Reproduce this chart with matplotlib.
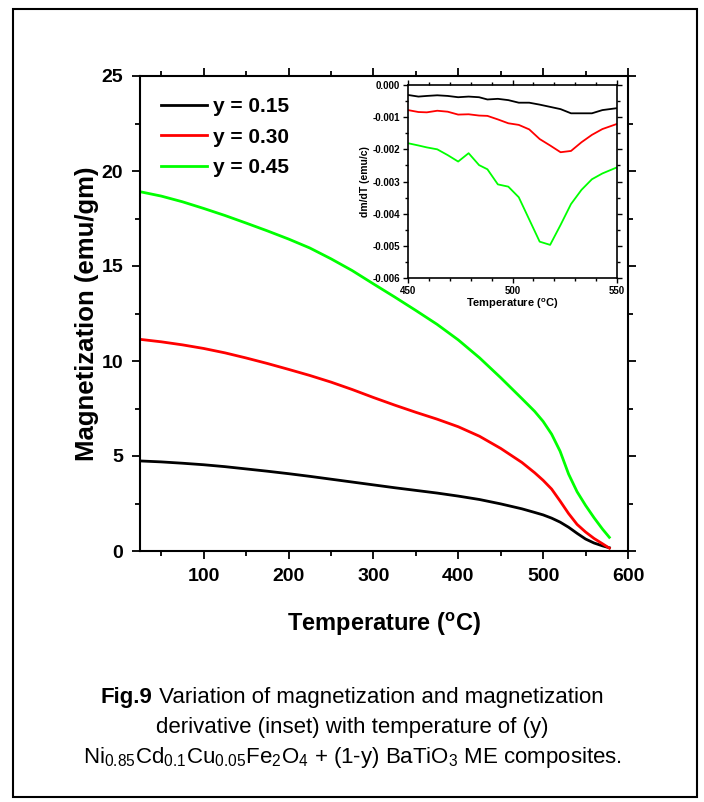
import numpy as np
import matplotlib
matplotlib.use('Agg')
import matplotlib.pyplot as plt
from matplotlib.patches import Rectangle
from matplotlib.ticker import MultipleLocator, FormatStrFormatter

# main curves: magnetization vs temperature
temp = [25, 50, 75, 100, 125, 150, 175, 200, 225, 250, 275, 300, 325, 350, 375,
        400, 425, 450, 475, 490, 500, 510, 520, 530, 540, 550, 560, 570, 578]
mag_015 = [4.74, 4.69, 4.62, 4.54, 4.44, 4.32, 4.20, 4.07, 3.93, 3.78, 3.63, 3.48, 3.33, 3.19, 3.05,
           2.89, 2.71, 2.48, 2.22, 2.03, 1.90, 1.73, 1.52, 1.25, 0.93, 0.63, 0.42, 0.27, 0.17]
mag_030 = [11.14, 11.01, 10.85, 10.66, 10.43, 10.16, 9.87, 9.56, 9.24, 8.89, 8.50, 8.08, 7.68, 7.30, 6.94,
           6.54, 6.04, 5.40, 4.66, 4.12, 3.72, 3.26, 2.63, 1.97, 1.40, 1.00, 0.66, 0.38, 0.15]
mag_045 = [18.91, 18.68, 18.38, 18.03, 17.66, 17.26, 16.85, 16.42, 15.95, 15.38, 14.76, 14.06, 13.37, 12.66, 11.93,
           11.11, 10.17, 9.12, 8.02, 7.35, 6.82, 6.15, 5.25, 4.05, 3.12, 2.40, 1.75, 1.15, 0.72]

# inset: dm/dT (x 1e-3 emu/c)
temp_in = [450, 455, 459, 464, 469, 474, 479, 484, 488, 493, 498,
           503, 508, 513, 518, 523, 528, 533, 538, 543, 550]
dmdt_015 = [-0.31, -0.36, -0.34, -0.32, -0.34, -0.38, -0.36, -0.38, -0.45, -0.43, -0.47,
            -0.55, -0.55, -0.61, -0.68, -0.75, -0.88, -0.88, -0.88, -0.78, -0.72]
dmdt_030 = [-0.78, -0.84, -0.85, -0.80, -0.83, -0.92, -0.91, -0.95, -0.96, -1.07, -1.19,
            -1.24, -1.38, -1.68, -1.88, -2.09, -2.05, -1.78, -1.55, -1.37, -1.21]
dmdt_045 = [-1.81, -1.88, -1.94, -2.00, -2.18, -2.38, -2.12, -2.49, -2.62, -3.09, -3.16,
            -3.49, -4.18, -4.87, -4.97, -4.35, -3.70, -3.26, -2.93, -2.75, -2.56]

labels = ['y = 0.15', 'y = 0.30', 'y = 0.45']
colors = ['black', '#ff0000', '#00ff00']

plt.rcParams['font.family'] = ['Liberation Sans', 'DejaVu Sans']
plt.rcParams['mathtext.fontset'] = 'custom'
plt.rcParams['mathtext.rm'] = 'Liberation Sans'
plt.rcParams['mathtext.it'] = 'Liberation Sans:italic'
plt.rcParams['mathtext.bf'] = 'Liberation Sans:bold'

fig = plt.figure(figsize=(7.04, 8.02), dpi=100)

# outer frame
fig.patches.append(Rectangle((13 / 704, 5 / 802), 684 / 704, 788 / 802, transform=fig.transFigure,
                             fill=False, edgecolor='black', linewidth=1.5))

ax = fig.add_axes([140 / 704, 1 - 551 / 802, 488 / 704, 475 / 802])
for m, lab, c in zip([mag_015, mag_030, mag_045], labels, colors):
    ax.plot(temp, m, color=c, lw=2, label=lab)

ax.set_xlim(25, 600)
ax.set_ylim(0, 25)
ax.xaxis.set_major_locator(MultipleLocator(100))
ax.xaxis.set_minor_locator(MultipleLocator(50))
ax.yaxis.set_major_locator(MultipleLocator(5))
ax.yaxis.set_minor_locator(MultipleLocator(2.5))
ax.tick_params(which='both', direction='out', top=True, right=True, width=1.3)
ax.tick_params(which='major', length=6, labelsize=14, pad=6)
ax.tick_params(which='minor', length=3.5)
for lbl in ax.get_xticklabels() + ax.get_yticklabels():
    lbl.set_fontweight('bold')
for s in ax.spines.values():
    s.set_linewidth(1.5)

ax.set_xlabel(r'Temperature ($\mathbf{^{o}}$C)', fontsize=17, fontweight='bold', labelpad=19)
ax.set_ylabel('Magnetization (emu/gm)', fontsize=18.5, fontweight='bold', labelpad=2)

leg = ax.legend(loc='upper left', bbox_to_anchor=(0.005, 0.995), frameon=False,
                prop={'weight': 'bold', 'size': 15}, handlelength=2.2, handletextpad=0.3,
                labelspacing=0.55)

# inset
axi = fig.add_axes([408 / 704, 1 - 278 / 802, 209 / 704, 193 / 802])
for d, c in zip([dmdt_015, dmdt_030, dmdt_045], colors):
    axi.plot(temp_in, np.array(d) / 1000, color=c, lw=1.3)
axi.set_xlim(450, 550)
axi.set_ylim(-0.006, 0)
axi.xaxis.set_major_locator(MultipleLocator(50))
axi.xaxis.set_minor_locator(MultipleLocator(10))
axi.yaxis.set_major_locator(MultipleLocator(0.001))
axi.yaxis.set_minor_locator(MultipleLocator(0.0005))
axi.yaxis.set_major_formatter(FormatStrFormatter('%.3f'))
axi.tick_params(which='both', direction='out', top=True, right=True, width=1)
axi.tick_params(which='major', length=3.5, labelsize=7, pad=2)
axi.tick_params(which='minor', length=2)
for lbl in axi.get_xticklabels() + axi.get_yticklabels():
    lbl.set_fontweight('bold')
for s in axi.spines.values():
    s.set_linewidth(1.2)
axi.set_xlabel(r'Temperature ($\mathbf{^{o}}$C)', fontsize=8, fontweight='bold', labelpad=1)
axi.set_ylabel('dm/dT (emu/c)', fontsize=7.5, fontweight='bold', labelpad=2)

# caption: first line has a bold "Fig.9" followed by regular text
cap_y1 = 1 - 697 / 802
t_bold = fig.text(0, cap_y1, 'Fig.9', fontsize=16, fontweight='bold', va='center', ha='left')
t_rest = fig.text(0, cap_y1, ' Variation of magnetization and magnetization', fontsize=16,
                  va='center', ha='left')
renderer = fig.canvas.get_renderer()
w_bold = t_bold.get_window_extent(renderer).width / fig.bbox.width
w_rest = t_rest.get_window_extent(renderer).width / fig.bbox.width
x0 = 0.5 - (w_bold + w_rest) / 2
t_bold.set_x(x0)
t_rest.set_x(x0 + w_bold)

fig.text(0.5, 1 - 727 / 802, 'derivative (inset) with temperature of (y)',
         ha='center', va='center', fontsize=16)
fig.text(0.5, 1 - 758 / 802,
         r'Ni$_{0.85}$Cd$_{0.1}$Cu$_{0.05}$Fe$_{2}$O$_{4}$ + (1-y) BaTiO$_{3}$ ME composites.',
         ha='center', va='center', fontsize=16)

fig.savefig('out.png', dpi=100)
